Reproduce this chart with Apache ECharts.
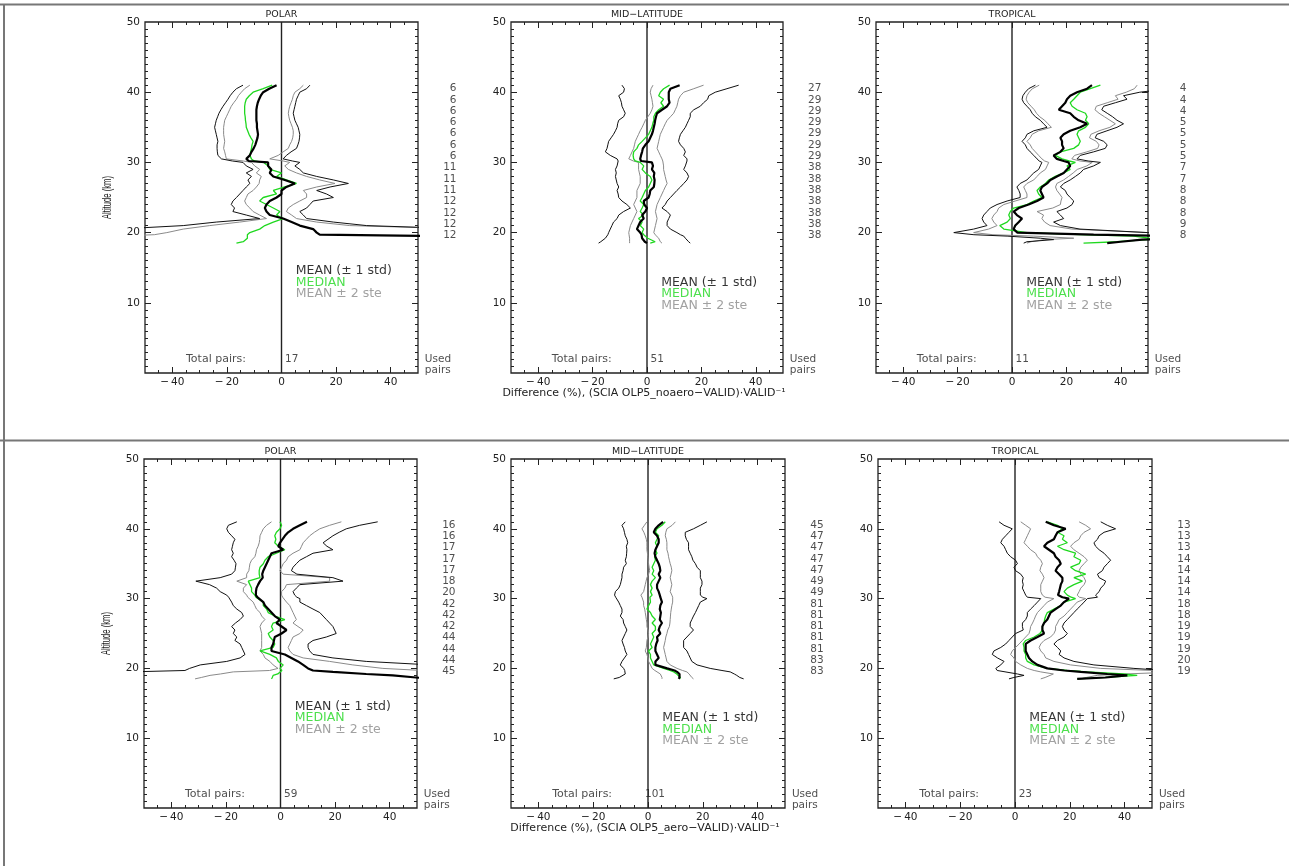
<!DOCTYPE html>
<html><head><meta charset="utf-8">
<script src="https://cdn.jsdelivr.net/npm/echarts@6/dist/echarts.min.js"></script>
<style>html,body{margin:0;padding:0;background:#fff}#c{width:1289px;height:866px}</style>
</head><body><div id="c"></div>
<script>
// ---------------- DATA ----------------
const ALT = [41,40.5,40,39.5,39,38.5,38,37.5,37,36.5,36,35.5,35,34.5,34,33.5,33,32.5,32,31.5,31,30.5,30.2,30,29.5,29,28.5,28,27.5,27,26.5,26,25.5,25,24.5,24,23.5,23,22.5,22,21.5,21,20.5,20,19.7,19.5,19.2,19,18.7,18.5];
const REGIONS = ['POLAR','MID\u2212LATITUDE','TROPICAL'];
const TOTAL_PAIRS = [17, 51, 11, 59, 101, 23];
const X_TICK_LABELS = [-40, -20, 0, 20, 40];
const Y_TICK_LABELS = [10, 20, 30, 40, 50];

const USED_TOP_POLAR = [6,6,6,6,6,6,6,11,11,11,12,12,12,12];
const USED_TOP_MID   = [27,29,29,29,29,29,29,38,38,38,38,38,38,38];
const USED_TOP_TROP  = [4,4,4,5,5,5,5,7,7,8,8,8,9,8];
const USED_BOT_POLAR = [16,16,17,17,17,18,20,42,42,42,44,44,44,45];
const USED_BOT_MID   = [45,47,47,47,47,49,49,81,81,81,81,81,83,83];
const USED_BOT_TROP  = [13,13,13,14,14,14,14,18,18,19,19,19,20,19];

const TOP_POLAR_MEAN = [-1.8,-4.5,-6.7,-7.6,-8.2,-8.7,-9,-9.2,-9.2,-9.2,-9.2,-9.0,-9.0,-8.8,-8.6,-8.8,-9.2,-9.6,-10.2,-11,-11.6,-12.9,-12,-4.9,-4.9,-3.7,-4.3,-3,1.2,4.9,1.8,0,0,-1.8,-4.3,-5.5,-6.1,-5.5,-4.3,0.6,3.7,6.7,11.6,12.9,14,60,60,60,60,60];
const TOP_POLAR_MEDIAN = [-3.4,-6.7,-10.4,-11.8,-12.9,-13.3,-13.5,-13.5,-13.5,-13.3,-13.2,-13,-12.9,-12.4,-11.9,-11.2,-10.4,-10.8,-11,-11.3,-11.6,-11,-10,-6.5,-4.9,-4.3,0,-1.8,1.8,5.5,1.2,-3,-1.8,-6.7,-8,-5.5,-3,-0.6,-1.8,0.6,-3,-6.1,-8,-11.6,-12.5,-12.9,-12.5,-12.3,-14,-16.5];
const TOP_POLAR_STD_LO = [-14.1,-16.5,-17.8,-18.8,-19.6,-20.5,-21.4,-22.2,-22.9,-23.4,-23.9,-24.2,-24.5,-24.2,-23.9,-23.6,-23.3,-23.6,-23.6,-23.5,-23.3,-22,-18,-14.1,-12.9,-10.4,-12.9,-11,-12.3,-11.6,-12.9,-14.1,-15.3,-16.5,-17.8,-18.4,-17.2,-17.8,-12.9,-8,-23.9,-36,-60,-60,-60,-60,-60,-60,-60,-60];
const TOP_POLAR_STD_HI = [10.4,9.2,6.7,6.1,5.5,5.2,4.9,4.6,4.3,4.6,4.9,5.5,6.1,6.4,6.7,6.6,6.4,6,5.5,3.5,1.8,0.6,4,6.7,4.9,6.7,8,12.9,19,24.5,17.8,12.9,16.5,19,11.6,10.4,9.2,6.7,8,9.2,19,31.2,70,70,70,70,70,70,70,70];
const TOP_POLAR_STE_LO = [-11.6,-13.5,-14.7,-15.8,-16.5,-17.5,-18.4,-19,-19.6,-20.2,-20.8,-21,-21.2,-21.2,-21.2,-21,-20.8,-21,-21.2,-20.8,-20.5,-20.2,-14,-11,-9.8,-8,-9.2,-7.4,-8,-8.2,-9.2,-10.4,-12.3,-12.9,-13.5,-12.9,-11.6,-10.4,-8,-5.5,-15.3,-26.3,-36,-42,-46.6,-60,-60,-60,-60,-60];
const TOP_POLAR_STE_HI = [8,6.7,4.9,4.3,4,3.5,3,2.7,2.5,2.7,3,3.5,4,4.3,4.3,4.1,3.7,3,2.5,0.6,-1.2,-4.3,0.6,3,1.2,2.5,5.5,9.2,14,19.6,12.9,8,9.2,9.2,6.7,4.3,2.5,1.8,3.7,5.5,12.9,25,70,70,70,70,70,70,70,70];

const TOP_MID_MEAN = [12,8.6,8,8,8,8.3,7.4,5.5,3.7,3.3,3,2.8,2.5,2.2,1.8,1.2,0.6,-0.6,-1.5,-1.8,-2.2,-2.5,-2.2,1.8,2.2,1.8,2.7,2.5,2.8,2.7,2.5,1.2,1,0.6,-1.2,-1,0,-0.6,-1.8,-1.2,-2.5,-3.1,-3.7,-2.5,-2,-1.8,-1.8,-1.8,-0.8,0];
const TOP_MID_MEDIAN = [8.3,6.1,4.9,4.3,6.1,5.1,6.1,4.3,3.1,2.5,2.5,2.1,1.8,1.2,0.6,-0.6,-1.8,-3.1,-3.7,-4.9,-5.1,-4.9,-4.3,-2.5,-1.2,-1.8,-0.6,1.2,1.8,1.2,0.6,-0.6,-1.2,-1.8,-2.5,-1.2,-1.8,-2.5,-1.2,-3.1,-1.8,-2.5,-1.2,-1.8,-1.2,-0.6,0.3,0.6,3,1.2];
const TOP_MID_STD_LO = [-9.2,-8.3,-8.6,-10.4,-9.8,-9.4,-9.2,-8.6,-8,-8.6,-10.4,-10.8,-11,-11.6,-12.3,-13.2,-14.1,-14.4,-14.7,-15.3,-13.5,-11,-10.6,-10.4,-11,-11.6,-11.3,-11.6,-11.3,-11,-10.4,-11,-10.6,-10.4,-9.2,-7.4,-6.1,-8.6,-10.4,-11,-12.3,-12.9,-13.5,-14.1,-14.4,-14.7,-15.3,-15.9,-17,-17.8];
const TOP_MID_STD_HI = [33.7,29.4,25.1,22.7,22.3,20.8,19.6,17.2,15.9,15.9,15.3,14.7,14.1,13.2,12.3,11.9,11.6,12.3,13.5,14.1,13.5,14.7,14.7,14.7,14.1,13.5,14.7,15.3,14.7,13.5,12.3,11,9.8,8.6,7.4,6.7,5.5,7.4,8.6,8,7.4,7.4,8.6,11,12.3,13.5,14.1,14.7,15.3,15.9];
const TOP_MID_STE_LO = [2.2,1.5,1.2,1.5,1.8,2,2.2,1.8,1.2,0.3,-0.6,-1.2,-1.8,-2.5,-3.1,-3.7,-4.3,-4.6,-4.9,-5.5,-6.1,-6.7,-5,-3.1,-3.1,-3.1,-2.8,-2.5,-2.5,-2.5,-3.1,-3.7,-3.7,-3.7,-4.3,-4.9,-4.3,-3.7,-4.3,-4.9,-5.5,-6.1,-6.4,-6.7,-6.6,-6.5,-6.4,-6.4,-6.4,-6.4];
const TOP_MID_STE_HI = [20.8,17.2,13.5,12.3,11.6,11.3,11,10.4,9.8,8.6,7.4,6.7,6.1,5.5,4.9,4.6,4.3,4,3.7,4.3,4.9,5.5,5.8,6.1,6.1,6.1,6.4,6.7,7,7.4,6.7,6.1,5.5,4.9,4.3,3.7,3.4,3.1,3.4,3.7,3.4,3.1,2.8,2.5,3,3.7,4.3,4.3,4.9,5.5];

const TOP_TROP_MEAN = [29.4,27.6,23.9,21.4,20.2,19.6,18.4,17.2,21.4,22.7,24.5,27.6,25.1,21.4,19,17.8,18.4,18.4,19,17.8,15.3,16.5,19,20.8,21.4,20.2,19,16.5,14.1,12.9,11,10.4,11,11.6,9.2,6.1,2.5,0.6,1.8,3.7,2.5,1.2,0.6,2,30,60,60,47.8,40,35];
const TOP_TROP_MEDIAN = [32.5,28.8,25.1,23.9,22.7,21.4,22.1,23.9,27,27.6,27,28.2,27,24.5,23.9,24.5,25.1,24.5,22.7,17.8,15.9,18.4,21,23.3,20.2,21.4,19,15.9,13.5,12.3,10.4,9.2,9.8,11,8,5.5,0.6,-0.6,-1.2,-0.6,-1.8,-4.5,-3,5.5,25,44.7,50.5,49.6,38.6,26.3];
const TOP_TROP_STD_LO = [8.6,6.1,4.9,4,3.7,4.3,5.5,6.7,7.4,8.6,10.4,11.6,12.9,8,5.5,4.9,3.7,4.9,5.5,6.7,8,9.2,10,11,10.4,9.8,8,6.7,5.5,3,1.8,2.5,3,3,-1.8,-5.5,-8,-9.2,-10.4,-11,-10.4,-9.2,-14.1,-21.4,-14,-1.8,10.4,15.3,5.5,4.3];
const TOP_TROP_STD_HI = [60,58,47,41,42.3,38,33.7,33,35,37,38.6,41,38.6,34.9,31.2,30.6,33.7,35,34.3,30,25.1,23.9,28,32.5,30,26.3,25.1,23.3,21.4,19,17.8,19.6,20.2,21.4,22.7,22.1,20.2,16.5,17.8,19,15.3,17.8,25,50,60,60,60,60,60,60];
const TOP_TROP_STE_LO = [10,7.5,6.3,5.5,5.2,5.8,7,8.2,9,10.2,12,13.2,14.5,9.8,7.4,6.7,5.5,6.7,7.4,8.6,9.8,11,12,13.5,12.9,12.3,10.4,9.2,8,5.5,4.3,4.9,5.5,5.5,1.2,-3,-4.9,-5.5,-6.7,-7.4,-6.7,-5.5,-8.6,-14.1,-7,8,22.7,12,7,5.5];
const TOP_TROP_STE_HI = [46,45,42,38,39,35,31,30.5,32,34,36,38,36,32,29,28.5,31,32,31.5,27.5,23,22,25,29.5,27.5,24,22.5,20.8,19,16.5,16,16.5,17.5,18.4,18,17.8,15,9.2,11.6,11,12,14,22,50,60,60,60,60,60,60];

const BOT_POLAR_MEAN = [9.7,7.1,4.6,2.8,1.6,0.7,-0.2,-0.8,1,-3.3,-3.9,-4.5,-5.1,-5.7,-6.3,-6.7,-6.5,-7.5,-8.2,-8.8,-9,-9,-8.5,-7.8,-6.3,-5.7,-4.5,-3.3,-2.1,-0.2,-1.5,0.4,2.2,0.4,-2.1,-2.4,-2.7,-3.3,-3.3,1.6,4,6.4,8.3,10.1,11.9,19.2,31.4,41.1,49.6,55];
const BOT_POLAR_MEDIAN = [-0.2,0.4,-0.2,-1.5,-2.1,-1.7,-2.1,-0.8,1.6,-1.5,-4.5,-5.7,-6.3,-7.5,-7.8,-7.8,-7.5,-11.8,-11.2,-10.6,-10.6,-9.4,-9,-8.8,-6.3,-6.3,-5.1,-4.5,-2.1,1.6,-2.7,-3.3,-2.7,-4.5,-3.9,-2.7,-2.1,-2.7,-7.5,-3.9,-1.5,-0.8,1,-0.2,0.5,0.4,-1,-2.7,-3,-3.3];
const BOT_POLAR_STD_LO = [-16,-19.1,-19.7,-19.1,-17.9,-16.7,-17.3,-17.6,-17.9,-17.3,-17.9,-17,-16.3,-16.5,-16.7,-17.9,-22.1,-31,-26,-23.4,-22.1,-19.7,-19,-18.5,-17.9,-17.3,-16,-14.2,-13.6,-14.8,-16.5,-17.9,-16.7,-17.3,-16,-16.7,-14.8,-14.2,-13.6,-13,-14.8,-19.7,-29.4,-33.3,-35,-55,-60,-60,-60,-60];
const BOT_POLAR_STD_HI = [35.6,29,24.1,21.5,19.2,17.4,15.6,17,19.2,11.9,9.5,7.1,5.8,4.6,4,6,19.2,22.9,7.1,5.8,4.6,5.2,6,7.1,7.1,9.5,11.9,14.4,15.6,16.8,18,19.2,19.8,20.4,16.8,11.9,10.1,10.1,10.7,11.9,19.2,31.4,55,60,60,60,60,60,60,60];
const BOT_POLAR_STE_LO = [-3.3,-5.1,-6.3,-6.9,-7.5,-7.6,-7.8,-8.2,-8.8,-9,-9.4,-10.6,-11.2,-11.4,-11.6,-12.4,-12.4,-16,-12.4,-13.6,-13.6,-12.4,-12,-11.8,-10,-9.4,-8.8,-7.5,-6.9,-5.7,-6.9,-7.5,-7.2,-6.9,-6.9,-6.9,-6.9,-6.9,-7.5,-6.3,-5.7,-3.9,-2.7,-0.9,-4,-17.3,-22,-25.8,-29,-31.3];
const BOT_POLAR_STE_HI = [22.3,18,14.4,12.4,10.7,9.5,8.3,7.7,7.1,4.6,2.8,2.2,1,0.4,-0.2,1,18,18,2.2,1.6,0.4,0.4,0.8,1,2.2,3.4,4,4.6,5.2,5.8,4.6,6.4,8.3,7.1,4.6,4,3.4,2.8,3.4,4.6,8.3,18,26.5,37.5,52,60,60,60,60,60];

const BOT_MID_MEAN = [5.5,3.9,2.7,2.1,3.3,3.9,3.9,3.3,2.7,2.4,2.7,3.3,3.9,4.3,4.5,3.9,4.5,3.9,3.3,3.3,3.9,4.3,4.5,5.1,5.1,4.5,4.3,4.7,4.5,4.3,5.1,4.3,3.9,4.5,3.3,3.5,3,2.7,2.7,3.3,3.9,2.7,2.7,7,9.7,10.6,11.5,11.8,11.5,11.2];
const BOT_MID_MEDIAN = [6.3,5.1,3.3,2.7,3.9,3.3,2.7,3.3,2.7,3.3,2.4,2.7,2.1,1.5,2.1,1.5,2.7,1.5,0.9,1.5,0.9,1.5,0.7,0.2,0.9,0.2,-0.4,0.9,1.5,2.7,1.5,2.7,2.7,1.5,2.1,1.5,0.9,1.5,0.2,0.9,0.9,1.5,2.1,5.7,8,9.4,10.5,11.2,11.8,11.5];
const BOT_MID_STD_LO = [-8.3,-9.5,-8.9,-8.6,-8.3,-7.7,-7.4,-7.9,-7.7,-7.8,-7.9,-8.3,-7.9,-8.9,-9.1,-9.5,-9.5,-9.8,-10.1,-10.7,-11.9,-12.2,-11.8,-11.6,-10.7,-10.1,-9.5,-9.5,-10.1,-9.1,-8.9,-8.3,-7.7,-8.3,-8.9,-9.5,-9.1,-8.6,-8.3,-7.7,-8.6,-9.5,-10.1,-8.9,-8.5,-8.3,-8.3,-8.6,-10.5,-12.5];
const BOT_MID_STD_HI = [21.5,19.1,16.6,13.6,13.6,14,14.8,14.8,14.8,15.4,16,16.4,17.3,17.9,19.1,19.1,19.1,19.7,19.7,19.1,19.1,19.1,20,21.5,19.1,18.5,17.9,17.3,16.6,16,15.4,15.4,16.6,15.4,14.2,13,13,13,14.2,14.8,15.4,16,17.9,22.7,27,30,31.5,32.4,33.5,34.9];
const BOT_MID_STE_LO = [-0.4,-1.3,-2.2,-1.5,-1,-0.6,-0.4,-0.4,-0.4,-0.2,-0.1,0.1,0.2,0.4,0.6,0.2,-0.4,-0.7,-1,-1.3,-1.6,-2.6,-2.2,-1.8,-1.6,-1.6,-1.2,-1,-0.8,-0.6,-0.4,-0.4,0,0.2,0,-0.4,-0.5,-0.6,-1,-0.4,0,0.2,0.9,1.5,2.5,3.3,4.5,5.1,5.1,5.1];
const BOT_MID_STE_HI = [10,8.8,6.9,6.5,6.3,6.7,6.9,6.9,6.9,7.3,7.5,7.8,8.1,8.5,8.7,8.4,8.1,8.4,8.7,8.4,8.1,8.7,9,9.4,9,8.7,8.5,8.3,8.2,8.1,8,7.8,7.2,6.9,6.5,6.3,6,5.7,6,6.3,6.6,6.9,8.1,10.6,12.6,14.2,15,15.4,16,16.6];

const BOT_TROP_MEAN = [11.2,14.2,18.5,15.5,14.8,14.2,11.8,10.6,12.4,14.2,14.8,16.1,16.7,15.5,14.8,16.1,17.3,17.3,16.7,16.4,16.1,15.7,17.3,19.7,17.9,16.7,14.8,13,12.4,11.8,10.6,10,10,10.6,8.2,5.7,3.9,3.9,3.9,4.5,5.1,6.3,8.2,11.8,18,24,33.7,41,33,22.7];
const BOT_TROP_MEDIAN = [11.8,15.5,17.3,15.5,17.9,17.3,19.1,15.5,17.9,22.1,21.5,24,23.4,20.3,22.1,25.8,21.5,24.6,21.5,19.1,17.9,19.1,20.5,22.1,17.9,16.7,14.2,11.8,11.2,10.8,10.6,10,10,9.1,7,3.9,3,3.3,3.3,3.9,3.9,4.5,7,11.8,19,26.4,39.5,44.6,33,22.7];
const BOT_TROP_STD_LO = [-5.8,-4,-1,-2.2,-3.4,-4.6,-5.2,-4,-3.4,-2.8,-1.6,0.2,0.9,-0.4,0.2,2.1,3,2.7,3,2.7,3.3,3.9,4.5,9.4,8.2,7,5.7,4.5,4.5,3.9,2.7,2.7,3,0.2,-1,-2.2,-3.4,-5.2,-7.7,-8.3,-6.4,-4,-5.2,-7,-6.5,-6.4,0.9,3.3,-0.4,-2.2];
const BOT_TROP_STD_HI = [31.3,33.7,36.7,32.5,30.7,30.1,28.8,29.4,30.7,32.5,33.7,34.9,33.7,32.5,31.9,30.1,30.7,33.1,32.5,31.3,30.7,29.4,30.1,26.4,25.2,24,22.7,21.5,20.3,19.1,17.9,17.3,17.9,19.1,17.9,15.5,14.2,15.5,16.7,16.1,17.9,21.5,28.8,43.4,55,60,60,60,60,60];
const BOT_TROP_STE_LO = [2.1,3.9,5.7,5.1,4.5,3.9,3.3,4.5,5.7,7.5,8.2,9.4,10,9.4,9.1,10,10.6,10,9.4,9.4,9.4,10,11,14.2,11.8,10.6,9.4,8.2,7.5,7,6.4,5.7,5.5,5.1,3.9,2.7,1.5,0.2,-1,-1.6,-0.4,0.2,2.1,4.5,7,9.4,14,14.2,11,9.4];
const BOT_TROP_STE_HI = [23.4,25.8,27.6,25.2,24,23.4,21.5,20.3,21.5,23.4,25.2,26.4,25.2,24,23.4,24,25.2,25.8,25.2,24,23.4,22.7,23.5,25.8,22.7,21.5,20.3,19.1,17.9,16.1,15.5,14.8,14.8,14.2,13,10.6,9.4,8.8,9.4,10.6,11.2,14.2,20.3,31.3,50,60,40,30,26,24];

// ---------------- LAYOUT ----------------
const FONT = "'DejaVu Sans', sans-serif";
const GREEN = '#1fd81f';
const GRAY = '#8a8a8a';
const PANELS = [
  {left:145, top:22, width:273, height:351, region:0, lines:[TOP_POLAR_MEAN,TOP_POLAR_MEDIAN,TOP_POLAR_STD_LO,TOP_POLAR_STD_HI,TOP_POLAR_STE_LO,TOP_POLAR_STE_HI], used:USED_TOP_POLAR, total:TOTAL_PAIRS[0], legendY:14.45, yname:true},
  {left:511, top:22, width:272, height:351, region:1, lines:[TOP_MID_MEAN,TOP_MID_MEDIAN,TOP_MID_STD_LO,TOP_MID_STD_HI,TOP_MID_STE_LO,TOP_MID_STE_HI], used:USED_TOP_MID, total:TOTAL_PAIRS[1], legendY:12.8, xname:'Difference (%), (SCIA OLP5_noaero\u2212VALID)\u00B7VALID\u207B\u00B9'},
  {left:876, top:22, width:272, height:351, region:2, lines:[TOP_TROP_MEAN,TOP_TROP_MEDIAN,TOP_TROP_STD_LO,TOP_TROP_STD_HI,TOP_TROP_STE_LO,TOP_TROP_STE_HI], used:USED_TOP_TROP, total:TOTAL_PAIRS[2], legendY:12.8},
  {left:144, top:459, width:273, height:349, region:0, lines:[BOT_POLAR_MEAN,BOT_POLAR_MEDIAN,BOT_POLAR_STD_LO,BOT_POLAR_STD_HI,BOT_POLAR_STE_LO,BOT_POLAR_STE_HI], used:USED_BOT_POLAR, total:TOTAL_PAIRS[3], legendY:14.5, yname:true},
  {left:511, top:459, width:274, height:349, region:1, lines:[BOT_MID_MEAN,BOT_MID_MEDIAN,BOT_MID_STD_LO,BOT_MID_STD_HI,BOT_MID_STE_LO,BOT_MID_STE_HI], used:USED_BOT_MID, total:TOTAL_PAIRS[4], legendY:12.85, xname:'Difference (%), (SCIA OLP5_aero\u2212VALID)\u00B7VALID\u207B\u00B9'},
  {left:878, top:459, width:274, height:349, region:2, lines:[BOT_TROP_MEAN,BOT_TROP_MEDIAN,BOT_TROP_STD_LO,BOT_TROP_STD_HI,BOT_TROP_STE_LO,BOT_TROP_STE_HI], used:USED_BOT_TROP, total:TOTAL_PAIRS[5], legendY:12.85}
];

const X_MINOR = []; for (let v = -45; v <= 45; v += 5) if (v % 20 !== 0) X_MINOR.push(v);
const X_MAJOR_T = [-40,-20,0,20,40];
const Y_MINOR = []; for (let v = 1; v < 50; v++) if (v % 10 !== 0) Y_MINOR.push(v);
const Y_MAJOR_T = [10,20,30,40];

function fmtX(v){ return v < 0 ? '\u2212\u2009' + (-v) : String(v); }

const grids = [], xAxes = [], yAxes = [], series = [], graphics = [];

function xAx(gi, pos, ticks, len, labels){
  return {type:'value', gridIndex:gi, position:pos, min:-50, max:50,
    axisLine:{show:false, onZero:false}, splitLine:{show:false},
    axisTick:{show:true, inside:true, length:len, customValues:ticks, lineStyle:{color:'#222', width:1}},
    axisLabel: labels ? {show:true, customValues:X_TICK_LABELS, formatter:fmtX, color:'#222', fontSize:10.5, margin:4, fontFamily:FONT} : {show:false}
  };
}
function yAx(gi, pos, ticks, len, labels){
  return {type:'value', gridIndex:gi, position:pos, min:0, max:50,
    axisLine:{show:false, onZero:false}, splitLine:{show:false},
    axisTick:{show:true, inside:true, length:len, customValues:ticks, lineStyle:{color:'#222', width:1}},
    axisLabel: labels ? {show:true, customValues:Y_TICK_LABELS, color:'#222', fontSize:10.5, margin:5, fontFamily:FONT} : {show:false}
  };
}

PANELS.forEach((p, gi) => {
  grids.push({left:p.left, top:p.top, width:p.width, height:p.height, show:true, borderColor:'#222', borderWidth:1.3, backgroundColor:'transparent', containLabel:false});
  xAxes.push(xAx(gi,'bottom',X_MAJOR_T,6,true), xAx(gi,'bottom',X_MINOR,3,false), xAx(gi,'top',X_MAJOR_T,6,false), xAx(gi,'top',X_MINOR,3,false));
  yAxes.push(yAx(gi,'left',Y_MAJOR_T,6,true), yAx(gi,'left',Y_MINOR,3,false), yAx(gi,'right',Y_MAJOR_T,6,false), yAx(gi,'right',Y_MINOR,3,false));
  const xi = gi*4, yi = gi*4;
  const mk = (vals, color, width, z) => ({type:'line', xAxisIndex:xi, yAxisIndex:yi, data: ALT.map((a,k)=>[vals[k], a]),
    showSymbol:false, symbol:'none', clip:true, silent:true, lineStyle:{color, width}, z});
  // zero reference line
  series.push({type:'line', xAxisIndex:xi, yAxisIndex:yi, data:[[0,0],[0,50]], showSymbol:false, symbol:'none', silent:true, lineStyle:{color:'#222', width:1.4}, z:1});
  const [mean, median, sLo, sHi, eLo, eHi] = p.lines;
  series.push(mk(eLo, GRAY, 1, 2), mk(eHi, GRAY, 1, 2));
  series.push(mk(sLo, '#111', 1, 3), mk(sHi, '#111', 1, 3));
  series.push(mk(median, GREEN, 1.3, 4));
  series.push(mk(mean, '#000', 2.2, 5));
  // texts positioned in data coordinates
  const items = [
    {text:'Total pairs:', x:-34.8, y:1.9, align:'left', size:11},
    {text:String(p.total), x:6.4, y:1.9, align:'right', size:10.5},
    {text:'Used', x:52.7, y:1.9, align:'left', size:10.5},
    {text:'pairs', x:52.7, y:0.25, align:'left', size:10.5},
    {text:'MEAN (\u00B1 1 std)', x:5.4, y:p.legendY, align:'left', size:12.5, color:'#000'},
    {text:'MEDIAN', x:5.4, y:p.legendY-1.65, align:'left', size:12.5, color:GREEN},
    {text:'MEAN \u00B1 2 ste', x:5.4, y:p.legendY-3.3, align:'left', size:12.5, color:GRAY}
  ];
  p.used.forEach((n, k) => items.push({text:String(n), x:64.3, y:40.45 - 1.61*k, align:'right', size:10.5}));
  series.push({type:'scatter', xAxisIndex:xi, yAxisIndex:yi, symbolSize:1, itemStyle:{color:'rgba(0,0,0,0)'}, clip:false, silent:true, z:10,
    label:{show:true, position:[0,0], formatter:'{b}', verticalAlign:'middle', fontFamily:FONT, color:'#222'},
    data: items.map(t => ({name:t.text, value:[t.x, t.y], label:{align:t.align, color:t.color || '#222', fontSize:t.size}}))});
  // panel title
  graphics.push({type:'text', x:p.left + p.width/2, y:p.top - 7, style:{text:REGIONS[p.region], font:'9.5px ' + FONT, fill:'#222', align:'center', verticalAlign:'middle'}});
  if (p.yname) graphics.push({type:'text', x:p.left - 37, y:p.top + p.height/2, rotation:Math.PI/2, scaleX:0.64,
    style:{text:'Altitude (km)', font:'12px "Liberation Sans", sans-serif', fill:'#222', align:'center', verticalAlign:'middle'}});
  if (p.xname) graphics.push({type:'text', x:p.left + p.width/2 - 3, y:p.top + p.height + 20, style:{text:p.xname, font:'11px ' + FONT, fill:'#222', align:'center', verticalAlign:'middle'}});
});

// figure frame lines
graphics.push({type:'line', shape:{x1:0, y1:4.5, x2:1289, y2:4.5}, style:{stroke:'#777', lineWidth:2}});
graphics.push({type:'line', shape:{x1:4, y1:4, x2:4, y2:866}, style:{stroke:'#777', lineWidth:2}});
graphics.push({type:'line', shape:{x1:0, y1:440.5, x2:1289, y2:440.5}, style:{stroke:'#777', lineWidth:2}});

const chart = echarts.init(document.getElementById('c'), null, {renderer:'canvas'});
chart.setOption({animation:false, backgroundColor:'#fff', grid:grids, xAxis:xAxes, yAxis:yAxes, series:series, graphic:graphics});
</script></body></html>
